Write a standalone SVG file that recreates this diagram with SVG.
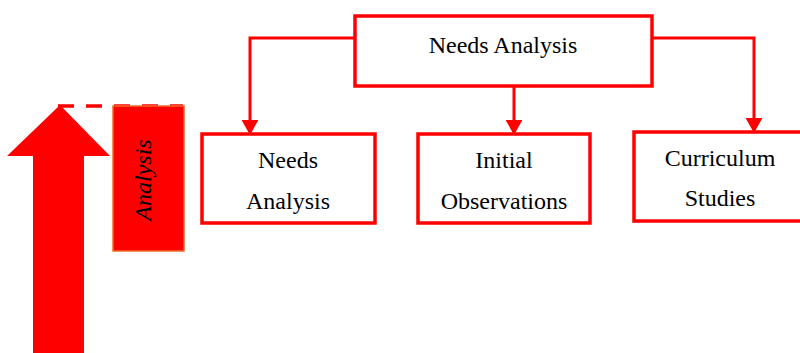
<svg xmlns="http://www.w3.org/2000/svg" width="800" height="353" viewBox="0 0 800 353">
<style>
.box{fill:#fff;stroke:#ff0000;stroke-width:3.5}
.t{font-family:"Liberation Serif","Times New Roman",serif;font-size:24px;fill:#000;text-anchor:middle}
.c{fill:none;stroke:#ff0000;stroke-width:3}
</style>
<defs>
<marker id="ah" markerWidth="5" markerHeight="5.6" refX="4" refY="2.8" orient="auto" markerUnits="strokeWidth">
<path d="M0,0 L5,2.8 L0,5.6 Z" fill="#ff0000"/>
</marker>
</defs>
<rect width="800" height="353" fill="#fff"/>
<g id="big-arrow">
<polygon points="60,105 110,156 84,156 84,353 33,353 33,156 7,156" fill="#ff0000"/>
<line x1="58" y1="106" x2="183" y2="106" stroke="#ff0000" stroke-width="3.5" stroke-dasharray="16,12"/>
</g>
<g id="analysis-bar">
<rect x="113" y="106" width="71" height="145" fill="#ff0000" stroke="#f26a2a" stroke-width="1.5"/>
<text class="t" font-style="italic" font-size="25" transform="translate(151,180) rotate(-90)">Analysis</text>
</g>
<g id="connectors">
<path class="c" d="M354,38 H250 V132" marker-end="url(#ah)"/>
<path class="c" d="M514,86 V132" marker-end="url(#ah)"/>
<path class="c" d="M652,38 H754 V130" marker-end="url(#ah)"/>
</g>
<g id="top">
<rect class="box" x="355" y="16" width="297" height="70"/>
<text class="t" x="503" y="53">Needs Analysis</text>
</g>
<g id="needs">
<rect class="box" x="202" y="134" width="173" height="89"/>
<text class="t" x="288" y="168">Needs</text>
<text class="t" x="288" y="209">Analysis</text>
</g>
<g id="initial">
<rect class="box" x="418" y="134" width="172" height="89"/>
<text class="t" x="504" y="168">Initial</text>
<text class="t" x="504" y="209">Observations</text>
</g>
<g id="curriculum">
<rect class="box" x="634" y="132" width="172" height="89"/>
<text class="t" x="720" y="166">Curriculum</text>
<text class="t" x="720" y="206">Studies</text>
</g>
</svg>
